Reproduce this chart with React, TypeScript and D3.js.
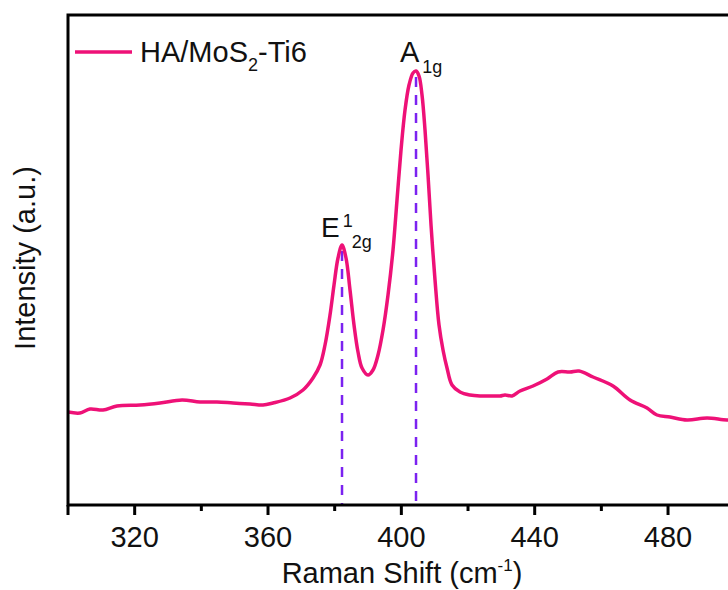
import React from "react";
import * as d3 from "d3";

const ramanShift = [300.0, 303.6, 306.6, 310.5, 314.7, 321.6, 327.6, 334.2, 339.6, 344.7, 349.5, 354.6, 358.5, 361.5, 366.6, 370.5, 373.5, 375.6, 377.1, 378.6, 379.8, 381.0, 382.2, 383.4, 384.6, 385.8, 387.0, 388.2, 390.0, 391.5, 393.0, 394.5, 396.0, 397.5, 398.7, 399.9, 401.1, 402.3, 403.5, 404.4, 405.3, 406.2, 407.1, 408.0, 408.9, 410.1, 411.3, 412.5, 413.7, 415.2, 417.6, 420.6, 423.6, 426.6, 429.6, 431.1, 433.2, 435.6, 439.5, 443.7, 447.0, 450.6, 453.3, 457.5, 463.5, 468.6, 473.7, 476.7, 480.6, 485.7, 491.7, 497.7, 500.0];
const intensity = [186, 184, 192, 190, 198, 200, 204, 210, 206, 206, 204, 202, 200, 204, 214, 230, 254, 280, 320, 380, 440, 494, 520, 494, 430, 360, 306, 274, 260, 270, 300, 350, 420, 510, 610, 710, 790, 840, 864, 868, 858, 820, 750, 660, 560, 450, 360, 310, 274, 240, 226, 220, 218, 218, 218, 220, 218, 228, 238, 252, 266, 266, 268, 256, 238, 210, 194, 180, 176, 170, 174, 170, 172];

const majorTicks = [300, 320, 360, 400, 440, 480];
const majorLabels = ["", "320", "360", "400", "440", "480"];
const minorTicks = [340, 380, 420, 460, 500];
const peakPositions = [382.2, 404.4];
const peakIntensities = [520, 868];

const W = 728, H = 590;
const left = 68, top = 15, bottom = 505;

export default function App() {
  const x = d3.scaleLinear().domain([300, 500]).range([left, left + 666.7]);
  const y = d3.scaleLinear().domain([0, 980]).range([bottom, top]);
  const data = ramanShift.map((v, i) => [v, intensity[i]] as [number, number]);
  const line = d3.line<[number, number]>().x(d => x(d[0])).y(d => y(d[1])).curve(d3.curveCatmullRom.alpha(0.5));
  const font = "'Liberation Sans', Arial, sans-serif";
  const pink = "#EE1177";
  const purple = "#7B22F0";
  return (
    <svg width={W} height={H} style={{ position: "absolute", left: 0, top: 0, background: "#fff" }} fontFamily={font}>
      <defs>
        <clipPath id="plot">
          <rect x={left} y={top} width={x(500) - left} height={bottom - top} />
        </clipPath>
      </defs>
      {peakPositions.map((p, i) => (
        <line key={i} x1={x(p)} x2={x(p)} y1={y(peakIntensities[i]) + 6} y2={bottom} stroke={purple} strokeWidth={2.5} strokeDasharray="10,8" />
      ))}
      <path d={line(data) || ""} fill="none" stroke={pink} strokeWidth={3.5} clipPath="url(#plot)" strokeLinejoin="round" />
      <rect x={left} y={top} width={x(500) - left} height={bottom - top} fill="none" stroke="#000" strokeWidth={3} />
      {majorTicks.map((t, i) => (
        <g key={"M" + t}>
          <line x1={x(t)} x2={x(t)} y1={bottom} y2={bottom + 10} stroke="#000" strokeWidth={3} />
          <text x={x(t)} y={547} textAnchor="middle" fontSize={29} fill="#111">{majorLabels[i]}</text>
        </g>
      ))}
      {minorTicks.map(t => (
        <line key={"m" + t} x1={x(t)} x2={x(t)} y1={bottom} y2={bottom + 6} stroke="#000" strokeWidth={3} />
      ))}
      <text x={402} y={583} textAnchor="middle" fontSize={29} fill="#111">
        Raman Shift (cm<tspan dy={-12} fontSize={17}>-1</tspan><tspan dy={12}>)</tspan>
      </text>
      <text transform="translate(35,258) rotate(-90)" textAnchor="middle" fontSize={29} fill="#111">Intensity (a.u.)</text>
      <line x1={75} x2={132} y1={52} y2={52} stroke={pink} strokeWidth={3.5} />
      <text x={140} y={62} fontSize={29} fill="#111">
        HA/MoS<tspan dy={9} fontSize={18}>2</tspan><tspan dy={-9}>-Ti6</tspan>
      </text>
      <text x={400} y={62} fontSize={29} fill="#111">
        A<tspan dx={3} dy={11} fontSize={18}>1g</tspan>
      </text>
      <text x={321} y={237} fontSize={28} fill="#111">
        E<tspan dx={3} dy={-10} fontSize={18}>1</tspan><tspan dx={-1} dy={21} fontSize={18}>2g</tspan>
      </text>
    </svg>
  );
}
